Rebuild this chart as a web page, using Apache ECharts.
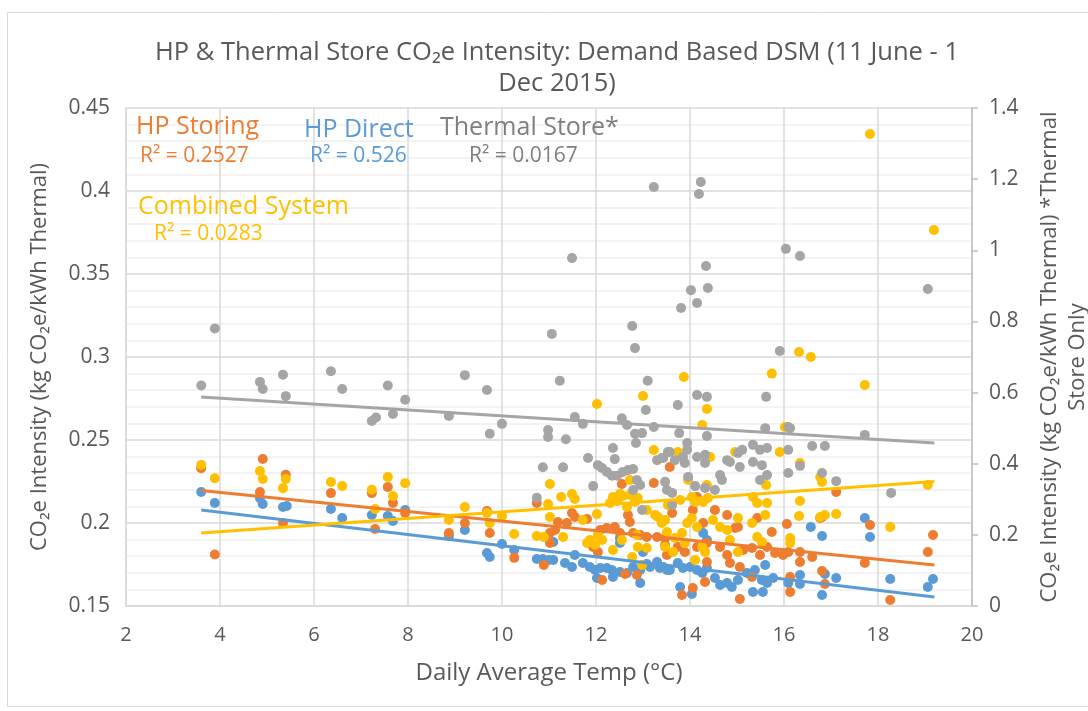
<!DOCTYPE html>
<html>
<head>
<meta charset="utf-8">
<script src="https://cdn.jsdelivr.net/npm/echarts@6/dist/echarts.min.js"></script>
<style>
  html, body { margin: 0; padding: 0; background: #fff; }
  #chart { width: 1088px; height: 711px; }
</style>
</head>
<body>
<div id="chart"></div>
<script>
// Daily points: [daily average temp (°C), CO2e intensity]
const hpDirect = [
  [3.60,0.2187],[3.89,0.212],[4.85,0.215],[4.91,0.2114],[5.34,0.2096],[5.42,0.2102],[6.36,0.2084],[6.60,0.203],[7.23,0.2048],[7.57,0.2042],[7.68,0.2012],[7.94,0.2078],
  [8.87,0.1922],[9.21,0.1958],[9.68,0.1819],[9.74,0.1795],[10.0,0.1874],[10.26,0.1837],[10.74,0.1783],[10.87,0.1783],[11.0,0.1777],
  [11.09,0.1886],[11.55,0.1807],[11.34,0.1759],[11.49,0.1735],[11.72,0.1759],[11.09,0.1777],
  [11.87,0.1735],[11.98,0.1717],[12.09,0.1729],[12.23,0.1729],[12.34,0.1717],[12.51,0.1705],[12.66,0.1699],[12.79,0.1735],[12.94,0.1717],[13.15,0.1735],[13.36,0.1729],[13.51,0.1717],
  [12.02,0.1669],[12.36,0.1675],[12.94,0.1639],
  [12.51,0.191],[12.51,0.188],[13.0,0.1825],[13.08,0.1753],[13.3,0.1765],
  [13.43,0.1735],[13.57,0.1717],[13.74,0.1759],[13.85,0.1729],[14.0,0.1735],[14.15,0.1717],[14.26,0.1699],[14.36,0.1729],[14.53,0.1669],[14.64,0.1627],[14.79,0.1639],[14.89,0.1614],[15.02,0.1657],[15.21,0.1699],[15.38,0.1717],[15.53,0.1657],[15.64,0.1639],[15.77,0.1669],
  [13.79,0.1614],[14.04,0.1572],[15.34,0.1584],[15.55,0.1584],
  [14.28,0.194],[14.36,0.1898],[15.6,0.1747],[16.09,0.1639],
  [17.72,0.203],[17.83,0.1916],[16.81,0.1922],[16.57,0.1976],[16.34,0.1687],[16.34,0.1633],[16.87,0.1693],[17.11,0.1669],[16.81,0.1566],[18.26,0.1663],[19.17,0.1663],[19.06,0.1614]
];

const hpStoring = [
  [3.60,0.233],[3.89,0.181],[4.91,0.2386],[4.85,0.2187],[5.40,0.229],[5.34,0.200],[6.36,0.218],[7.23,0.218],[7.30,0.1964],[7.57,0.2217],[7.68,0.212],[7.94,0.206],
  [8.87,0.194],[9.21,0.200],[9.68,0.2072],[9.74,0.194],[10.26,0.179],[10.74,0.212],[10.89,0.1747],[11.02,0.188],
  [12.55,0.2235],[13.23,0.2241],[13.57,0.2337],[11.49,0.206],[11.55,0.2036],[11.19,0.2006],[11.38,0.200],[11.81,0.2024],[11.02,0.194],[11.13,0.1958],
  [12.09,0.1958],[12.23,0.197],[12.40,0.1976],[12.51,0.194],[12.68,0.2048],[12.72,0.2006],[12.79,0.194],[12.94,0.1928],[13.08,0.1916],[13.30,0.1916],[13.47,0.191],
  [11.94,0.1855],[12.04,0.1825],[12.62,0.1693],[12.87,0.1687],[12.13,0.1657],[13.51,0.1807],
  [13.62,0.206],[14.06,0.2078],[14.15,0.2157],[14.28,0.200],[14.53,0.2078],[14.79,0.2048],[14.96,0.197],[15.02,0.1976],[15.43,0.203],[15.74,0.1946],
  [13.47,0.1867],[13.74,0.1855],[13.89,0.1825],[14.15,0.1855],[14.36,0.188],[14.64,0.1855],[14.79,0.1807],[15.13,0.1837],[15.32,0.1849],[15.49,0.1807],[15.64,0.1855],[15.81,0.1819],[15.98,0.1807],[16.09,0.1825],
  [14.36,0.1765],[14.85,0.1759],[15.06,0.1735],[15.32,0.1675],
  [13.83,0.1566],[14.06,0.1608],[14.32,0.1645],[15.06,0.1542],
  [17.11,0.2187],[16.06,0.1994],[16.81,0.2036],[16.77,0.203],[17.83,0.1988],[19.17,0.1928],[19.06,0.1825],[16.34,0.1825],[16.34,0.1765],[16.60,0.1795],[17.72,0.1759],[16.81,0.1711],[16.87,0.1633],[16.13,0.1675],[16.13,0.1584],[18.26,0.1536]
];

const combinedSystem = [
  [3.60,0.235],[3.89,0.227],[4.85,0.2313],[4.91,0.2265],[5.40,0.2265],[5.34,0.221],[6.36,0.2247],[6.60,0.2223],[7.23,0.220],[7.30,0.2084],[7.57,0.2277],[7.68,0.2163],[7.94,0.224],
  [8.87,0.2018],[9.21,0.2096],[9.68,0.206],[9.74,0.200],[10.0,0.2042],[10.26,0.1934],[10.74,0.1922],[10.89,0.1916],[10.98,0.2114],[11.02,0.2036],[11.02,0.2235],
  [12.02,0.2717],[13.0,0.2765],[13.23,0.244],[11.26,0.2157],[11.49,0.2175],[11.55,0.2145],[11.30,0.1916],[11.72,0.2018],[12.02,0.2054],
  [12.36,0.2157],[12.51,0.2175],[12.57,0.2163],[12.30,0.212],[12.45,0.2133],[12.66,0.2096],[12.83,0.2127],[12.89,0.2151],[12.72,0.2169],
  [13.08,0.2078],[13.26,0.2048],[13.32,0.2036],[13.47,0.2018],[12.72,0.2259],
  [12.04,0.1928],[12.13,0.1898],[11.87,0.1898],[11.81,0.188],[11.98,0.1868],[12.36,0.1837],[12.55,0.1898],[12.87,0.1928],[12.89,0.1855],[13.08,0.1849],[12.77,0.1795],[12.98,0.1747],[13.53,0.2108],
  [13.87,0.288],[15.74,0.290],[14.36,0.2687],[14.26,0.259],[16.02,0.2578],[13.74,0.2428],[14.43,0.2398],[14.96,0.2428],[15.91,0.2428],[13.96,0.2259],[14.36,0.2229],[15.62,0.2229],
  [14.04,0.2157],[14.11,0.2127],[13.79,0.2139],[14.28,0.2127],[14.38,0.2151],[15.34,0.2157],[15.43,0.212],[15.64,0.212],[15.60,0.2048],
  [13.40,0.200],[13.51,0.1946],[13.68,0.191],[13.83,0.194],[13.94,0.200],[14.04,0.203],[14.15,0.1976],[13.89,0.188],[14.26,0.1855],[14.49,0.2018],[14.64,0.1976],[14.79,0.1958],[14.85,0.1898],[15.02,0.203],[15.32,0.200],[15.43,0.1916],[15.53,0.1886],[15.02,0.1825],
  [13.47,0.1855],[13.64,0.1825],[14.11,0.1777],[14.32,0.1825],
  [17.83,0.4343],[19.19,0.3765],[16.32,0.303],[16.57,0.300],[17.72,0.2831],
  [16.34,0.2361],[16.77,0.2277],[16.81,0.2247],[16.34,0.2133],[16.32,0.2042],[16.77,0.2036],[16.87,0.2048],[17.11,0.2054],[18.26,0.1976],[19.06,0.2229],[16.13,0.191],[16.13,0.188]
];

// Thermal store only, read against the secondary (right) axis
const thermalStore = [
  [3.89,0.78],[3.60,0.62],[4.85,0.63],[4.91,0.61],[5.34,0.65],[5.40,0.59],[6.36,0.66],[6.60,0.61],[7.23,0.52],[7.32,0.53],[7.57,0.62],[7.68,0.54],[7.94,0.58],
  [8.87,0.534],[9.68,0.607],[9.74,0.484],[10.0,0.512],[10.87,0.39],[10.98,0.495],[10.98,0.475],[10.74,0.304],
  [9.21,0.649],[11.06,0.765],[11.49,0.978],[11.23,0.633],[12.77,0.787],[12.83,0.725],[13.10,0.633],[13.23,1.178],
  [13.06,0.551],[11.55,0.531],[11.72,0.512],[11.36,0.469],[12.55,0.528],[12.66,0.509],[12.83,0.484],[12.98,0.486],[12.85,0.458],[13.23,0.503],[12.36,0.444],[12.40,0.413],[11.83,0.416],[11.30,0.39],
  [12.04,0.396],[12.13,0.388],[12.23,0.377],[12.34,0.366],[12.45,0.366],[12.57,0.377],[12.68,0.382],[12.79,0.385],
  [11.94,0.337],[12.87,0.354],[12.94,0.34],[12.79,0.326],[13.30,0.41],[13.40,0.416],[13.53,0.433],[13.47,0.349],[12.98,0.27],
  [14.15,0.593],[14.36,0.588],[13.74,0.565],[15.62,0.588],[13.77,0.486],[14.36,0.478],[13.94,0.458],[13.94,0.439],[15.60,0.50],[16.09,0.503],
  [13.57,0.433],[13.43,0.416],[13.68,0.41],[13.85,0.419],[13.89,0.402],[14.15,0.419],[14.32,0.425],[14.32,0.402],[14.79,0.41],[14.85,0.405],[15.02,0.43],[15.11,0.439],[15.06,0.391],[15.34,0.453],[15.49,0.439],[15.64,0.444],[15.34,0.405],[15.53,0.396],[16.09,0.439],
  [13.96,0.363],[14.11,0.337],[14.32,0.332],[14.53,0.326],[14.64,0.368],[14.68,0.354],[15.49,0.354],[15.64,0.368],[13.51,0.326],[13.62,0.318],[13.62,0.284],[16.09,0.374],
  [16.13,0.50],[16.60,0.45],[16.87,0.45],[16.34,0.394],[16.81,0.374],[17.11,0.351],[17.72,0.481],[18.28,0.318],
  [14.23,1.192],[14.19,1.158],[16.04,1.004],[16.34,0.984],[14.34,0.956],[14.02,0.888],[14.38,0.894],[14.15,0.852],[13.81,0.838],[19.06,0.891],[15.91,0.717]
];

// Linear trendline end points for each series
const trendStoring  = [[3.6,0.2196],[19.2,0.1747]];
const trendDirect   = [[3.6,0.2078],[19.2,0.1554]];
const trendCombined = [[3.6,0.1940],[19.2,0.2250]];
const trendThermal  = [[3.6,0.5875],[19.2,0.4580]];

// Fit statistics shown beside each series name
const seriesLabels = ['HP Storing', 'HP Direct', 'Thermal Store*', 'Combined System'];
const rSquared = ['0.2527', '0.526', '0.0167', '0.0283'];

const COLORS = { storing: '#ED7D31', direct: '#5B9BD5', thermal: '#A5A5A5', combined: '#FFC000' };
const FONT = 'Open Sans';
const TEXT = '#595959';

const chart = echarts.init(document.getElementById('chart'));

function dots(name, data, color, yAxisIndex) {
  return {
    name, type: 'scatter', data, yAxisIndex,
    symbol: 'circle', symbolSize: 10,
    itemStyle: { color, opacity: 1 },
    silent: true, z: 2
  };
}
function trend(name, data, color, yAxisIndex) {
  return {
    name, type: 'line', data, yAxisIndex,
    showSymbol: false, symbol: 'none',
    lineStyle: { color, width: 3 },
    silent: true, z: 5
  };
}
function note(text, x, y, color, size) {
  return {
    type: 'text', left: x, top: y, z: 10,
    style: { text, fill: color, font: `${size}px "${FONT}"` }
  };
}

chart.setOption({
  animation: false,
  textStyle: { fontFamily: FONT },
  title: {
    text: 'HP & Thermal Store CO₂e Intensity: Demand Based DSM (11 June - 1\nDec 2015)',
    left: 552, top: 32, textAlign: 'center',
    textStyle: { fontFamily: FONT, fontSize: 25.5, fontWeight: 'normal', color: TEXT, lineHeight: 31 }
  },
  grid: { left: 126, right: 116, top: 108, bottom: 105, containLabel: false, outerBoundsMode: 'none' },
  xAxis: {
    type: 'value', min: 2, max: 20, interval: 2,
    name: 'Daily Average Temp (°C)', nameLocation: 'middle', nameGap: 55,
    nameTextStyle: { fontSize: 24, color: TEXT },
    axisLine: { show: true, lineStyle: { color: '#d9d9d9', width: 1.5 } },
    axisTick: { show: false },
    axisLabel: { fontSize: 20, color: TEXT, margin: 19 },
    splitLine: { show: true, lineStyle: { color: '#d9d9d9', width: 1.5 } }
  },
  yAxis: [
    {
      type: 'value', min: 0.15, max: 0.45, interval: 0.05,
      name: 'CO₂e Intensity (kg CO₂e/kWh Thermal)', nameLocation: 'middle', nameGap: 75, nameRotate: 90,
      nameTextStyle: { fontSize: 22, color: TEXT },
      axisLine: { show: true, lineStyle: { color: '#d9d9d9', width: 1.5 } },
      axisTick: { show: false },
      axisLabel: { fontSize: 21, color: TEXT, margin: 16, formatter: v => String(+v.toFixed(2)) },
      splitLine: { show: true, lineStyle: { color: '#d9d9d9', width: 1.5 } },
      minorTick: { show: false, splitNumber: 5 },
      minorSplitLine: { show: true, lineStyle: { color: '#efefef', width: 1.5 } }
    },
    {
      type: 'value', min: 0, max: 1.4, interval: 0.2, position: 'right',
      name: 'CO₂e Intensity (kg CO₂e/kWh Thermal) *Thermal\nStore Only', nameLocation: 'middle', nameGap: 64, nameRotate: 90,
      nameTextStyle: { fontSize: 22, color: TEXT, lineHeight: 28 },
      axisLine: { show: true, lineStyle: { color: '#bfbfbf', width: 1.5 } },
      axisTick: { show: true, length: 6, lineStyle: { color: '#bfbfbf', width: 1.5 } },
      axisLabel: { fontSize: 21, color: TEXT, margin: 17, formatter: v => String(+v.toFixed(1)) },
      splitLine: { show: false }
    }
  ],
  series: [
    dots('HP Direct', hpDirect, COLORS.direct, 0),
    dots('HP Storing', hpStoring, COLORS.storing, 0),
    dots('Combined System', combinedSystem, COLORS.combined, 0),
    dots('Thermal Store', thermalStore, COLORS.thermal, 1),
    trend('HP Direct trend', trendDirect, COLORS.direct, 0),
    trend('HP Storing trend', trendStoring, COLORS.storing, 0),
    trend('Combined System trend', trendCombined, COLORS.combined, 0),
    trend('Thermal Store trend', trendThermal, COLORS.thermal, 1)
  ],
  graphic: [
    { type: 'rect', left: 5, top: 10, z: 0, shape: { width: 1100, height: 694 },
      style: { fill: 'none', stroke: '#d9d9d9', lineWidth: 1 } },
    note(seriesLabels[0], 136, 114, COLORS.storing, 25),
    note('R² = ' + rSquared[0], 140, 146, COLORS.storing, 21),
    note(seriesLabels[1], 304, 117, COLORS.direct, 25),
    note('R² = ' + rSquared[1], 310, 146, COLORS.direct, 21),
    note(seriesLabels[2], 440, 115, '#7f7f7f', 25),
    note('R² = ' + rSquared[2], 469, 146, '#7f7f7f', 21),
    note(seriesLabels[3], 138, 194, COLORS.combined, 25),
    note('R² = ' + rSquared[3], 154, 224, COLORS.combined, 21)
  ]
});
</script>
</body>
</html>
